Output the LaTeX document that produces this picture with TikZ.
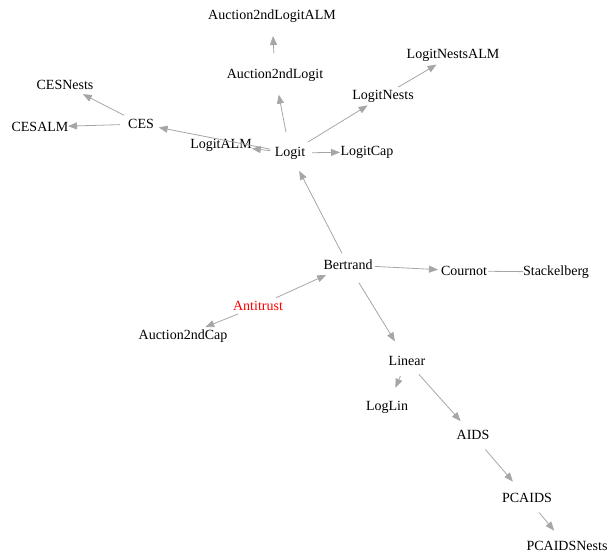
\documentclass[tikz,border=0pt]{standalone}
\usepackage{fontspec}
\setmainfont{Liberation Serif}
\usetikzlibrary{arrows.meta}
\begin{document}
\begin{tikzpicture}[x=1pt,y=-1pt,
  lbl/.style={font=\fontsize{14}{16}\selectfont, inner sep=0pt, text=black},
  edge/.style={draw=black!35, line width=0.8pt, -{Triangle[length=9pt,width=7pt]}},
  plain/.style={draw=black!35, line width=0.8pt},
]
\useasboundingbox (0,0) rectangle (612,558);
% nodes
\node[lbl] (a2lalm) at (272,16) {Auction2ndLogitALM};
\node[lbl] (a2l) at (275,75) {Auction2ndLogit};
\node[lbl] (lnalm) at (453,55) {LogitNestsALM};
\node[lbl] (ln) at (383,96) {LogitNests};
\node[lbl] (cesn) at (65,85) {CESNests};
\node[lbl] (ces) at (141,124) {CES};
\node[lbl] (cesalm) at (40,127) {CESALM};
\node[lbl] (lalm) at (221,145) {LogitALM};
\node[lbl] (logit) at (290,153) {Logit};
\node[lbl] (lcap) at (367,152) {LogitCap};
\node[lbl] (bert) at (348,265) {Bertrand};
\node[lbl] (cour) at (464,271) {Cournot};
\node[lbl] (stack) at (556,272) {Stackelberg};
\node[lbl, text=red] (anti) at (258,306) {Antitrust};
\node[lbl] (a2c) at (183,336) {Auction2ndCap};
\node[lbl] (lin) at (407,361) {Linear};
\node[lbl] (loglin) at (387,407) {LogLin};
\node[lbl] (aids) at (473,435) {AIDS};
\node[lbl] (pcaids) at (527,498) {PCAIDS};
\node[lbl] (pcn) at (567,546) {PCAIDSNests};
% edges
\draw[edge, shorten <=22pt, shorten >=20pt] (a2l.center) -- (a2lalm.center);
\draw[edge, shorten <=21pt, shorten >=20pt] (logit.center) -- (a2l.center);
\draw[edge, shorten <=21pt, shorten >=18pt] (logit.center) -- (ln.center);
\draw[edge, shorten <=17.5pt, shorten >=19pt] (ln.center) -- (lnalm.center);
\draw[edge, shorten <=22pt, shorten >=27pt] (logit.center) -- (lcap.center);
\draw[edge, shorten <=20pt, shorten >=31pt] (logit.center) -- (lalm.center);
\draw[edge, shorten <=20pt, shorten >=18pt] (logit.center) -- (ces.center);
\draw[edge, shorten <=19pt, shorten >=20pt] (ces.center) -- (cesn.center);
\draw[edge, shorten <=21pt, shorten >=28pt] (ces.center) -- (cesalm.center);
\draw[edge, shorten <=13pt, shorten >=20pt] (bert.center) -- (logit.center);
\draw[edge, shorten <=27pt, shorten >=26pt] (bert.center) -- (cour.center);
\draw[plain, shorten <=24pt, shorten >=33pt] (cour.center) -- (stack.center);
\draw[edge, shorten <=20pt, shorten >=24pt] (anti.center) -- (bert.center);
\draw[edge, shorten <=21.5pt, shorten >=24pt] (anti.center) -- (a2c.center);
\draw[edge, shorten <=21pt, shorten >=23pt] (bert.center) -- (lin.center);
\draw[edge, shorten <=16.5pt, shorten >=21pt] (lin.center) -- (loglin.center);
\draw[edge, shorten <=18pt, shorten >=18.6pt] (lin.center) -- (aids.center);
\draw[edge, shorten <=19pt, shorten >=21.6pt] (aids.center) -- (pcaids.center);
\draw[edge, shorten <=19pt, shorten >=20pt] (pcaids.center) -- (pcn.center);
\end{tikzpicture}
\end{document}
